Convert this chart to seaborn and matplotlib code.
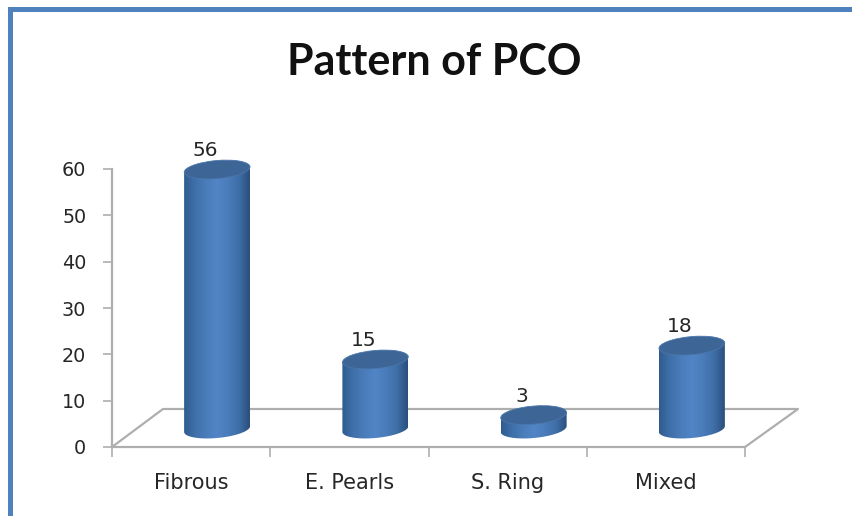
import matplotlib
matplotlib.use('Agg')
import matplotlib.pyplot as plt
from matplotlib.colors import LinearSegmentedColormap
from matplotlib.patches import Ellipse, PathPatch, Rectangle
from matplotlib.path import Path
from matplotlib.transforms import IdentityTransform
import numpy as np
import pandas as pd
import seaborn as sns

# chart data
categories = ['Fibrous', 'E. Pearls', 'S. Ring', 'Mixed']
counts = [56, 15, 3, 18]
y_ticks = [0, 10, 20, 30, 40, 50, 60]
chart_title = 'Pattern of PCO'

W, H = 852, 516
GREY = '#aeaeae'
TEXT = '#262626'

sns.set_theme(style='white')
plt.rcParams['font.family'] = ['DejaVu Sans']

fig = plt.figure(figsize=(W / 100, H / 100), dpi=100, facecolor='white')
# plot area in pixels: x 112-745, y 169-447
ax = fig.add_axes([112 / W, 1 - 447 / H, (745 - 112) / W, (447 - 169) / H])

# outer frame of the chart, only top and left are visible
fig.add_artist(Rectangle((8 / W, 0), 5 / W, 1 - 7 / H, transform=fig.transFigure,
                         color='#4f81bd', lw=0))
fig.add_artist(Rectangle((8 / W, 1 - 12 / H), 1 - 8 / W, 5 / H, transform=fig.transFigure,
                         color='#4f81bd', lw=0))

df = pd.DataFrame({'category': categories, 'count': counts})

# 3d look: bars stand in the middle of the floor
px_y = (447 - 169) / 60
px_x = (745 - 112) / 4
depth_y = 18 / px_y
depth_x = 26 / px_x

sns.barplot(data=df, x='category', y='count', color='#4f81bd', width=66 / px_x,
            bottom=depth_y, ax=ax, zorder=3, linewidth=0)
ax.set_xlim(-0.5, 3.5)
ax.set_ylim(0, 60)
fig.canvas.draw()

body_cmap = LinearSegmentedColormap.from_list(
    'body', ['#2f5c8f', '#3f70aa', '#4a7cba', '#5285c6', '#4a7cba', '#3f6fa8', '#2a4f7c'])
gradient = np.linspace(0, 1, 256).reshape(1, -1)
ELL_H = 18
TILT = 5

for bar, value in zip(ax.patches, counts):
    bar.set_x(bar.get_x() + depth_x)
    x0, x1 = bar.get_x(), bar.get_x() + bar.get_width()
    (left, base), (right, top) = ax.transData.transform([(x0, depth_y), (x1, depth_y + value)])
    cx = (left + right) / 2
    width = right - left

    # body: gradient clipped to side walls plus the lower half of the base
    t = np.linspace(0, np.pi, 40)
    lift = np.tan(np.radians(TILT)) * (width / 2) * np.cos(t)
    low_x = cx + width / 2 * np.cos(t)
    low_y = base - ELL_H / 2 * np.sin(t) + lift
    verts = [(left, top - np.tan(np.radians(TILT)) * width / 2),
             (right, top + np.tan(np.radians(TILT)) * width / 2)]
    verts += list(zip(low_x, low_y))
    verts.append(verts[0])
    clip = PathPatch(Path(verts), transform=IdentityTransform(), fc='none', lw=0)
    ax.add_patch(clip)
    img = ax.imshow(gradient, cmap=body_cmap, aspect='auto', zorder=3.1,
                    extent=(x0, x1, 0, depth_y + value + 3), interpolation='bilinear')
    img.set_clip_path(clip)
    bar.set_visible(False)

    # top cap
    ax.add_patch(Ellipse((cx, top), width, ELL_H, angle=TILT, transform=IdentityTransform(),
                         fc='#3d6596', ec='#4a76ac', lw=0.6, zorder=3.2, clip_on=False))

    # value label sits a little left of the cap
    ax.annotate(str(value), (cx, top), xycoords=IdentityTransform(), xytext=(-12, 19),
                textcoords='offset pixels', ha='center', va='center',
                fontsize=14.5, color=TEXT, zorder=4, annotation_clip=False)

ax.set_xlim(-0.5, 3.5)
ax.set_ylim(0, 60)

# floor of the 3d box
floor_x = [-0.5, -0.5 + 51 / px_x, 3.5 + 53 / px_x, 3.5]
floor_y = [0, 38 / px_y, 38 / px_y, 0]
ax.plot(floor_x, floor_y, color=GREY, lw=1.6, clip_on=False, zorder=1)

for side in ['top', 'right']:
    ax.spines[side].set_visible(False)
for side in ['left', 'bottom']:
    ax.spines[side].set_color(GREY)
    ax.spines[side].set_linewidth(1.6)

ax.set_xticks(np.arange(-0.5, 4, 1), minor=True)
ax.set_xticks(range(len(categories)), labels=categories)
ax.set_yticks(y_ticks)
ax.tick_params(axis='x', which='major', length=0, pad=19, labelsize=15, labelcolor=TEXT)
ax.tick_params(axis='x', which='minor', length=7.5, width=1.2, color=GREY, bottom=True)
ax.tick_params(axis='y', length=6.5, width=1.2, color=GREY, left=True, pad=12,
               labelsize=13.8, labelcolor=TEXT)
ax.set_xlabel('')
ax.set_ylabel('')

fig.text(434.5 / W, 1 - 62 / H, chart_title, ha='center', va='center', fontsize=31,
         fontweight='bold', family='Lato', color='#111111')

fig.savefig('out.png', dpi=100, facecolor='white')
